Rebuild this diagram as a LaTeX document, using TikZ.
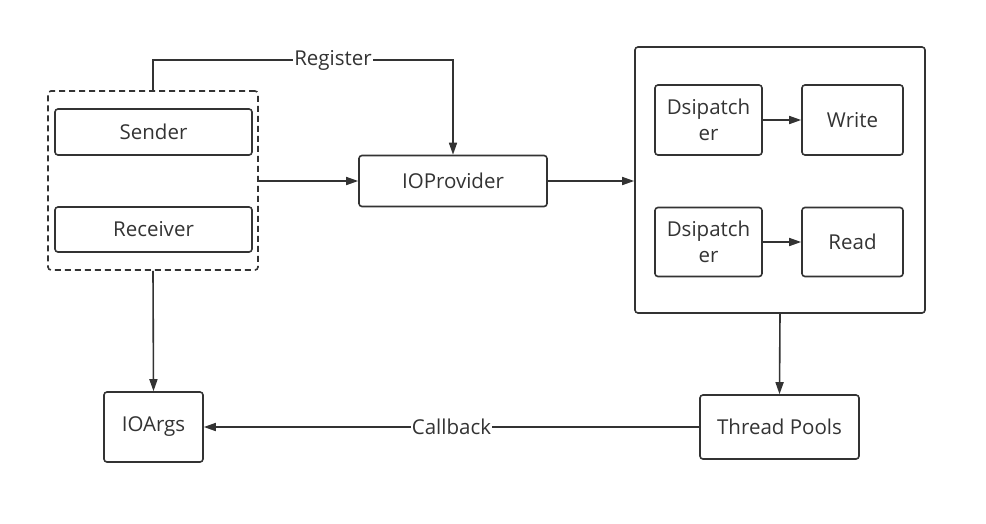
\documentclass[tikz,border=0pt]{standalone}
\usepackage{fontspec}
\setmainfont{Open Sans}
\usepackage{tikz}
\usetikzlibrary{positioning,arrows.meta,calc}
\definecolor{linegray}{HTML}{333333}

\tikzset{
  box/.style={draw=linegray, line width=1.6pt, rounded corners=3pt, inner sep=0pt, font=\fontsize{20.5}{26}\selectfont, text=linegray, align=center},
  arr/.style={draw=linegray, line width=1.6pt, -{Triangle[length=12pt,width=8pt]}},
  lbl/.style={fill=white, inner sep=1pt, font=\fontsize{20.5}{26}\selectfont, text=linegray}
}

\begin{document}
\begin{tikzpicture}[x=1pt,y=-1pt]
\useasboundingbox (0,0) rectangle (986,523);
% left group
\node[box, dashed, dash pattern=on 6pt off 4pt, minimum width=210pt, minimum height=179pt] (grp) at (153,180.5) {};
\node[box, minimum width=197pt, minimum height=46pt] (snd) at (153.5,132) {Sender};
\node[box, minimum width=197pt, minimum height=45pt] (rcv) at (153.5,229.5) {Receiver};
\node[box, minimum width=188pt, minimum height=51pt] (iop) at (453,181) {IOProvider};
% dispatch box
\node[box, minimum width=290pt, minimum height=266pt] (disp) at (780,180) {};
\node[box, minimum width=107pt, minimum height=70pt] (dw) at (708.5,120) {Dsipatch\\er};
\node[box, minimum width=101pt, minimum height=70pt] (wr) at (852.5,120) {Write};
\node[box, minimum width=107pt, minimum height=69pt] (dr) at (708.5,242) {Dsipatch\\er};
\node[box, minimum width=101pt, minimum height=69pt] (rd) at (852.5,242) {Read};
% bottom row
\node[box, minimum width=159pt, minimum height=64pt] (tp) at (779.5,427) {Thread Pools};
\node[box, minimum width=99pt, minimum height=70pt] (args) at (153.5,427) {IOArgs};

\draw[arr] (grp.north) -- ++(0,-30) -| node[lbl, pos=0.3] {Register} (iop.north);
\draw[arr] (grp.east |- iop) -- (iop.west);
\draw[arr] (iop.east) -- (disp.west |- iop);
\draw[arr] (dw) -- (wr);
\draw[arr] (dr) -- (rd);
\draw[arr] (disp.south) -- (tp.north);
\draw[arr] (tp.west) -- node[lbl] {Callback} (args.east);
\draw[arr] (grp.south) -- (args.north);
\end{tikzpicture}
\end{document}
